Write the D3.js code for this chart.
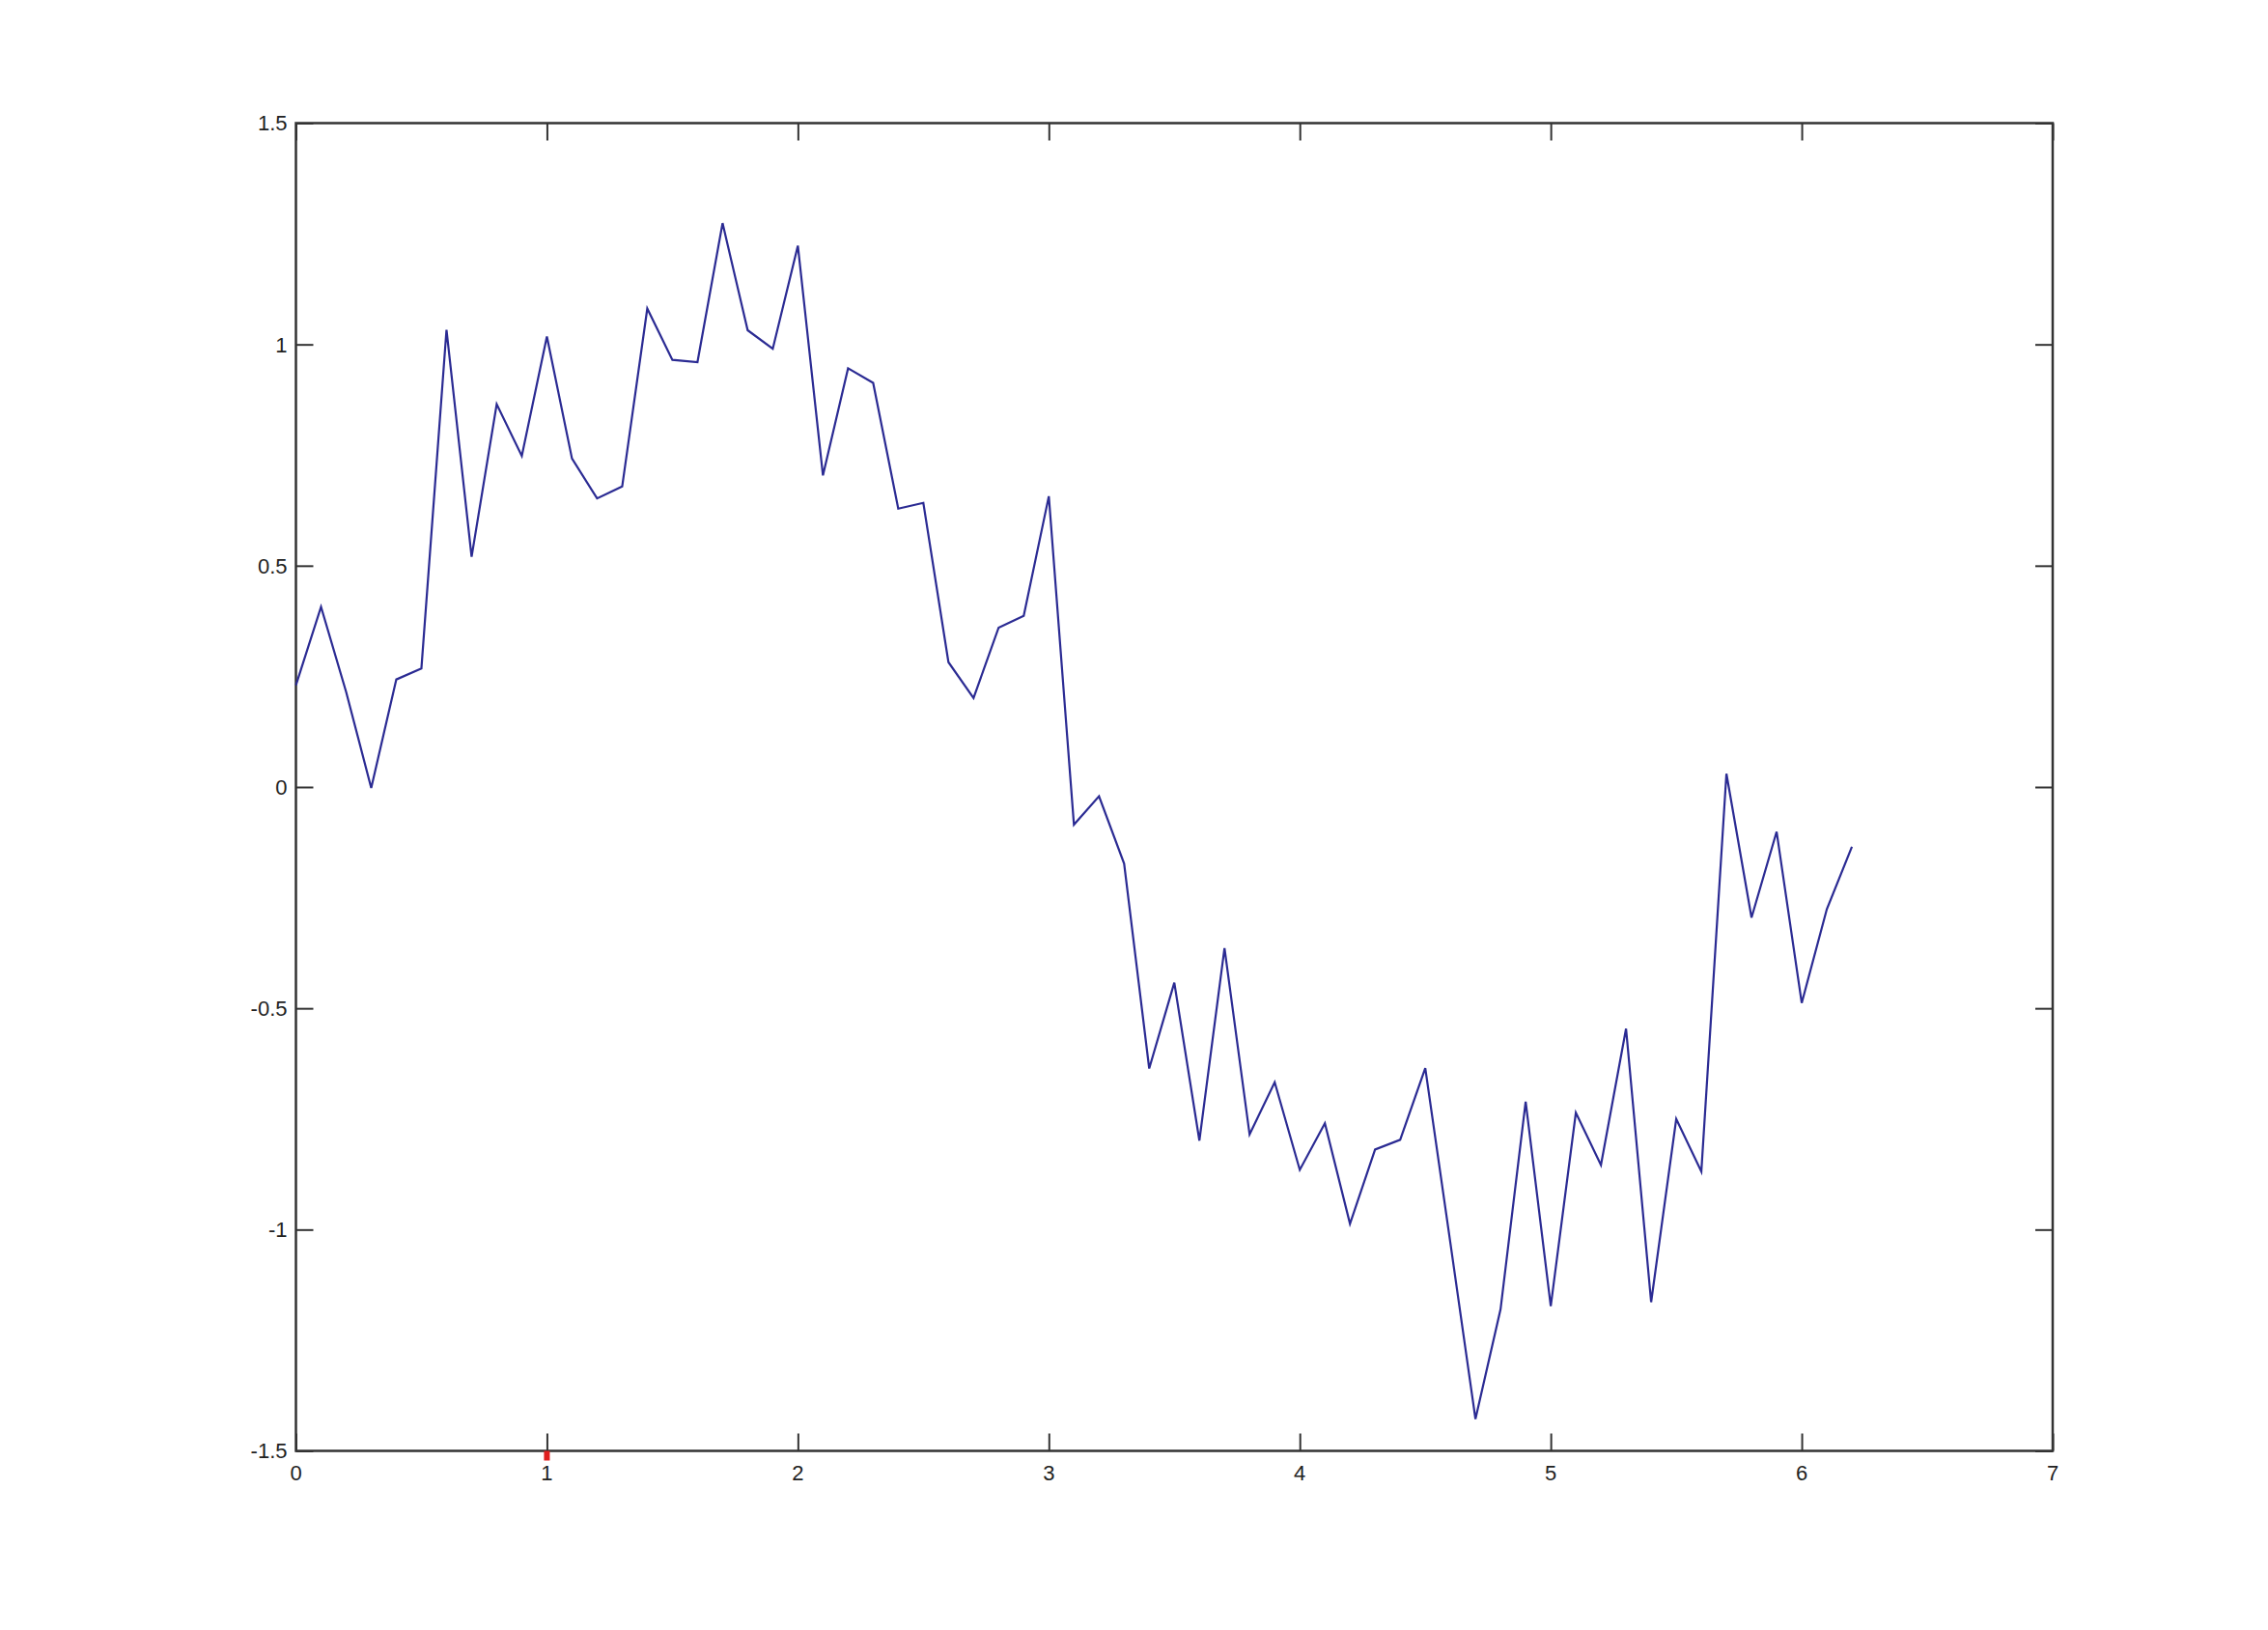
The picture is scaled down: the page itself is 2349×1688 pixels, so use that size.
<!DOCTYPE html>
<html>
<head>
<meta charset="utf-8">
<script src="https://cdn.jsdelivr.net/npm/d3@7"></script>
<style>
  body { margin: 0; background: #fff; }
  .tick-label { font-family: "Liberation Sans", Arial, sans-serif; font-size: 22px; fill: #222; }
</style>
</head>
<body>
<div id="chart"></div>
<script>
// Sample x positions (0 to 6.2, step 0.1)
var xValues = [0.0, 0.1, 0.2, 0.3, 0.4, 0.5, 0.6, 0.7, 0.8, 0.9,
               1.0, 1.1, 1.2, 1.3, 1.4, 1.5, 1.6, 1.7, 1.8, 1.9,
               2.0, 2.1, 2.2, 2.3, 2.4, 2.5, 2.6, 2.7, 2.8, 2.9,
               3.0, 3.1, 3.2, 3.3, 3.4, 3.5, 3.6, 3.7, 3.8, 3.9,
               4.0, 4.1, 4.2, 4.3, 4.4, 4.5, 4.6, 4.7, 4.8, 4.9,
               5.0, 5.1, 5.2, 5.3, 5.4, 5.5, 5.6, 5.7, 5.8, 5.9,
               6.0, 6.1, 6.2];

// Noisy sine values
var yValues = [0.23, 0.407, 0.215, -0.002, 0.243, 0.268, 1.033, 0.52, 0.865, 0.748,
               1.018, 0.742, 0.652, 0.679, 1.081, 0.965, 0.96, 1.274, 1.032, 0.99,
               1.223, 0.704, 0.946, 0.913, 0.629, 0.642, 0.282, 0.201, 0.36, 0.387,
               0.657, -0.085, -0.021, -0.173, -0.636, -0.442, -0.799, -0.364, -0.785, -0.667,
               -0.865, -0.76, -0.987, -0.819, -0.797, -0.635, -1.03, -1.428, -1.18, -0.711,
               -1.173, -0.736, -0.854, -0.546, -1.164, -0.75, -0.869, 0.03, -0.295, -0.101,
               -0.488, -0.276, -0.135];

var xTicks = [0, 1, 2, 3, 4, 5, 6, 7];
var yTicks = [-1.5, -1, -0.5, 0, 0.5, 1, 1.5];

// small red marker sitting on the x axis
var markerX = [1];

const width = 2349;
const height = 1688;
const margin = {top: 127.5, right: 223, bottom: 185.5, left: 306.5};
const tickLen = 18;

const svg = d3.select("#chart")
              .append("svg")
              .attr("width", width)
              .attr("height", height);

const x = d3.scaleLinear()
            .domain([0, 7])
            .range([margin.left, width - margin.right]);

const y = d3.scaleLinear()
            .domain([-1.5, 1.5])
            .range([height - margin.bottom, margin.top]);

const axisColor = "#333";

// inward ticks on all four sides, MATLAB style
svg.append("g")
   .attr("transform", "translate(0," + y(-1.5) + ")")
   .call(d3.axisTop(x).tickValues(xTicks).tickSize(tickLen).tickFormat(""))
   .call(g => g.select(".domain").remove());
svg.append("g")
   .attr("transform", "translate(0," + y(1.5) + ")")
   .call(d3.axisBottom(x).tickValues(xTicks).tickSize(tickLen).tickFormat(""))
   .call(g => g.select(".domain").remove());
svg.append("g")
   .attr("transform", "translate(" + x(0) + ",0)")
   .call(d3.axisRight(y).tickValues(yTicks).tickSize(tickLen).tickFormat(""))
   .call(g => g.select(".domain").remove());
svg.append("g")
   .attr("transform", "translate(" + x(7) + ",0)")
   .call(d3.axisLeft(y).tickValues(yTicks).tickSize(tickLen).tickFormat(""))
   .call(g => g.select(".domain").remove());

svg.selectAll(".tick line")
   .attr("stroke", axisColor)
   .attr("stroke-width", 2);

// frame
svg.append("rect")
   .attr("x", x(0))
   .attr("y", y(1.5))
   .attr("width", x(7) - x(0))
   .attr("height", y(-1.5) - y(1.5))
   .attr("fill", "none")
   .attr("stroke", axisColor)
   .attr("stroke-width", 2.5);

// tick labels
svg.selectAll(".xlabel")
   .data(xTicks)
   .enter()
   .append("text")
   .attr("class", "tick-label")
   .attr("x", function(d) { return x(d); })
   .attr("y", y(-1.5) + 30)
   .attr("text-anchor", "middle")
   .text(function(d) { return d; });

svg.selectAll(".ylabel")
   .data(yTicks)
   .enter()
   .append("text")
   .attr("class", "tick-label")
   .attr("x", x(0) - 9)
   .attr("y", function(d) { return y(d); })
   .attr("dy", "0.36em")
   .attr("text-anchor", "end")
   .text(function(d) { return d; });

// the data line
const line = d3.line()
               .x(function(d, i) { return x(xValues[i]); })
               .y(function(d) { return y(d); });

svg.append("path")
   .datum(yValues)
   .attr("d", line)
   .attr("fill", "none")
   .attr("stroke", "#2b2b93")
   .attr("stroke-width", 2.2)
   .attr("stroke-linejoin", "miter");

svg.selectAll(".marker")
   .data(markerX)
   .enter()
   .append("rect")
   .attr("x", function(d) { return x(d) - 3; })
   .attr("y", y(-1.5))
   .attr("width", 6)
   .attr("height", 10)
   .attr("fill", "#e02020");
</script>
</body>
</html>
